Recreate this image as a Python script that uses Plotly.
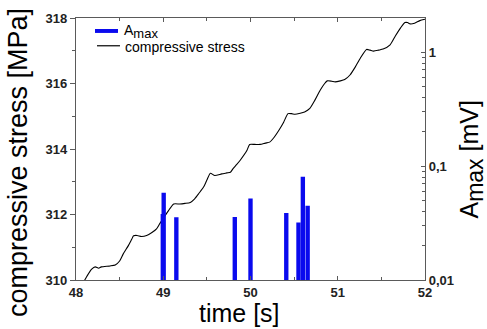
import plotly.graph_objects as go

# compressive stress trace
time_s = [48.06, 48.10, 48.14, 48.18, 48.22, 48.26, 48.29, 48.39, 48.45, 48.50,
          48.54, 48.60, 48.64, 48.66, 48.70, 48.75, 48.81, 48.87, 48.92, 48.96,
          49.01, 49.06, 49.12, 49.19, 49.25, 49.31, 49.36, 49.41, 49.46, 49.50,
          49.54, 49.59, 49.67, 49.73, 49.77, 49.80, 49.84, 49.88, 49.96, 49.99,
          50.05, 50.11, 50.17, 50.22, 50.26, 50.32, 50.38, 50.43, 50.47, 50.51,
          50.57, 50.62, 50.68, 50.74, 50.80, 50.85, 50.88, 50.93, 50.97, 51.03,
          51.08, 51.14, 51.20, 51.26, 51.33, 51.37, 51.41, 51.47, 51.52, 51.60,
          51.66, 51.72, 51.77, 51.80, 51.83, 51.88, 51.94, 52.00]
stress_mpa = [309.85, 310.00, 310.18, 310.33, 310.40, 310.36, 310.40, 310.43, 310.46, 310.58,
              310.79, 311.05, 311.25, 311.35, 311.36, 311.33, 311.36, 311.45, 311.55, 311.72,
              311.92, 312.12, 312.32, 312.32, 312.34, 312.37, 312.48, 312.65, 312.83, 313.05,
              313.26, 313.19, 313.24, 313.27, 313.29, 313.40, 313.52, 313.65, 313.96, 314.14,
              314.14, 314.14, 314.18, 314.21, 314.32, 314.55, 314.82, 315.08, 315.08, 315.06,
              315.09, 315.13, 315.24, 315.50, 315.80, 316.00, 316.08, 316.07, 316.05, 316.08,
              316.12, 316.26, 316.50, 316.78, 317.04, 317.02, 316.99, 317.02, 317.05, 317.18,
              317.45, 317.70, 317.86, 317.86, 317.82, 317.84, 317.92, 317.96]

# acoustic emission events: time and peak amplitude A_max [mV]
event_time_s = [48.995, 49.005, 49.15, 49.82, 50.00, 50.41, 50.55, 50.60, 50.655]
event_amax_mv = [0.038, 0.0585, 0.0355, 0.0358, 0.052, 0.0387, 0.032, 0.0808, 0.0449]

# right axis labels (comma decimals)
amax_tickvals = [0.01, 0.1, 1]
amax_ticktext = ["0,01", "0,1", "1"]

FONT = "Liberation Sans"
AXIS_COLOR = "#5a5a5a"
BLUE = "#0a0aee"

fig = go.Figure()

fig.add_trace(go.Bar(
    x=event_time_s, y=event_amax_mv, width=0.05,
    marker=dict(color=BLUE, line=dict(width=0)),
    yaxis="y2", showlegend=False,
))

fig.add_trace(go.Scatter(
    x=time_s, y=stress_mpa, mode="lines",
    line=dict(color="black", width=1.1, shape="spline", smoothing=0.6),
    cliponaxis=True, showlegend=False,
))

tickfont = dict(family=FONT, size=13, color="#222", weight="bold")

fig.update_layout(
    width=487, height=329,
    margin=dict(l=76, r=62, t=18, b=49),
    paper_bgcolor="white", plot_bgcolor="white",
    barmode="overlay",
    font=dict(family=FONT),
    xaxis=dict(
        range=[48, 52], dtick=1, tick0=48,
        ticks="inside", ticklen=4, tickcolor=AXIS_COLOR,
        minor=dict(ticks="inside", dtick=0.5, ticklen=3, tickcolor=AXIS_COLOR),
        showline=True, linecolor=AXIS_COLOR, linewidth=1.2, mirror="ticks",
        showgrid=False, zeroline=False, tickfont=tickfont,
    ),
    yaxis=dict(
        range=[310, 318], dtick=2, tick0=310,
        ticks="outside", ticklen=5, tickcolor=AXIS_COLOR,
        minor=dict(ticks="outside", dtick=1, ticklen=3, tickcolor=AXIS_COLOR),
        showline=True, linecolor=AXIS_COLOR, linewidth=1.2,
        showgrid=False, zeroline=False, tickfont=tickfont,
    ),
    yaxis2=dict(
        type="log", range=[-2, 0.301], overlaying="y", side="right",
        tickvals=amax_tickvals, ticktext=amax_ticktext,
        ticks="inside", ticklen=4, tickcolor=AXIS_COLOR,
        minor=dict(ticks="inside", ticklen=3, tickcolor=AXIS_COLOR, dtick="D1"),
        showline=True, linecolor=AXIS_COLOR, linewidth=1.2,
        showgrid=False, zeroline=False, tickfont=tickfont,
    ),
)

SUB_BIG = '<sub><span style="font-size:{}px">max</span></sub>'

# axis titles
fig.add_annotation(text="compressive stress [MPa]", textangle=-90,
                   xref="paper", yref="paper", x=-0.166, y=0.447,
                   xanchor="center", yanchor="middle", showarrow=False,
                   font=dict(family=FONT, size=27, color="black"))
fig.add_annotation(text="time [s]",
                   xref="paper", yref="paper", x=0.468, y=-0.125,
                   xanchor="center", yanchor="middle", showarrow=False,
                   font=dict(family=FONT, size=25, color="black"))
fig.add_annotation(text="A" + SUB_BIG.format(23) + " [mV]", textangle=-90,
                   xref="paper", yref="paper", x=1.132, y=0.46,
                   xanchor="center", yanchor="middle", showarrow=False,
                   font=dict(family=FONT, size=25, color="black"))

# legend
fig.add_shape(type="rect", xref="paper", yref="paper",
              x0=0.0544, x1=0.1203, y0=0.943, y1=0.958,
              fillcolor=BLUE, line=dict(width=0))
fig.add_shape(type="line", xref="paper", yref="paper",
              x0=0.0602, x1=0.126, y0=0.894, y1=0.894,
              line=dict(color="black", width=1.2))
fig.add_annotation(text="A" + SUB_BIG.format(13), xref="paper", yref="paper",
                   x=0.1318, y=0.947, xanchor="left", yanchor="middle",
                   showarrow=False, font=dict(family=FONT, size=14, color="black"))
fig.add_annotation(text="compressive stress", xref="paper", yref="paper",
                   x=0.1347, y=0.889, xanchor="left", yanchor="middle",
                   showarrow=False, font=dict(family=FONT, size=14, color="black"))

fig.write_html("out.html")
